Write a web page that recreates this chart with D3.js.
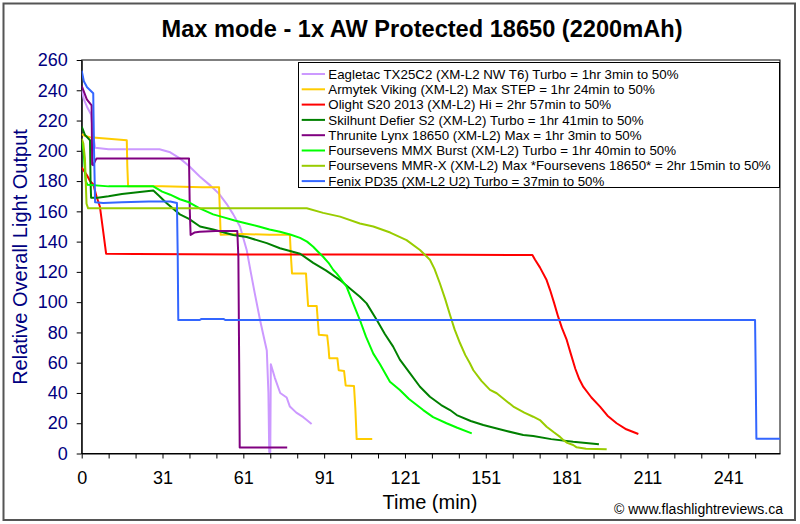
<!DOCTYPE html>
<html><head><meta charset="utf-8">
<script src="https://cdn.jsdelivr.net/npm/d3@7"></script>
<style>
html,body{margin:0;padding:0;background:#fff;}
svg{display:block;font-family:"Liberation Sans",Arial,sans-serif;}
</style></head>
<body>
<svg id="chart" width="800" height="524"></svg>
<script>
// ---------- DATA ----------
const title = "Max mode - 1x AW Protected 18650 (2200mAh)";
const xTitle = "Time (min)";
const yTitle = "Relative Overall Light Output";
const credit = "© www.flashlightreviews.ca";
const xTickLabels = ["0","31","61","91","121","151","181","211","241"];
const yTicks = [0,20,40,60,80,100,120,140,160,180,200,220,240,260];

const seriesNames = [
  "Eagletac TX25C2 (XM-L2 NW T6) Turbo = 1hr 3min to 50%",
  "Armytek Viking (XM-L2) Max STEP = 1hr 24min to 50%",
  "Olight S20 2013 (XM-L2) Hi = 2hr 57min to 50%",
  "Skilhunt Defier S2 (XM-L2) Turbo = 1hr 41min to 50%",
  "Thrunite Lynx 18650 (XM-L2) Max = 1hr 3min to 50%",
  "Foursevens MMX Burst (XM-L2) Turbo = 1hr 40min to 50%",
  "Foursevens MMR-X (XM-L2) Max *Foursevens 18650* = 2hr 15min to 50%",
  "Fenix PD35 (XM-L2 U2) Turbo = 37min to 50%"
];
const seriesColors = ["#CC99FF","#FFCC00","#FF0000","#008000","#800080","#00FF00","#99CC00","#3366FF"];

// [time (min), relative output]
const eagletac = [[0,240],[0.8,234],[2,229],[3.5,224],[4.3,210],[5,202],[10,201],[20,201],[29,201],[33,199],[36.6,195],[40,190],[44,183],[48,177],[51,172],[54,165],[56.5,158],[59,150],[61.5,134.5],[63,120],[64.5,106],[66.5,88],[68,76],[69,68],[69.6,40],[69.9,1],[70.3,1],[70.5,59],[72,50],[74,40],[76.4,37],[77.6,31],[80,27],[82.6,24],[84,22],[85.7,19.5]];
const armytek = [[0,211],[1,210],[3,209],[10,208],[16.8,207],[17,190],[17.3,176.5],[30,176.5],[45,176],[51.2,176],[51.5,160],[51.8,144.5],[60,145],[70,144.5],[77.6,144.5],[78,130],[78.4,119],[83.6,119],[84,108],[84.4,97.5],[87.6,97.5],[88,88],[88.4,78.5],[91.5,78],[92,70],[92.3,63],[95.3,63],[95.8,55],[97.8,54.5],[98.4,45],[101.5,44.6],[102,30],[102.5,9.5],[108.3,9.5]];
const olight = [[0,189],[1.9,184],[3.1,180],[4.3,178],[5.5,170],[6.8,163],[8,147],[9.1,132],[20,131.8],[60,131.5],[100,131.5],[140,131.3],[168,131.2],[169,128],[170.8,123],[173.3,114.6],[174.6,108],[176,100],[177.6,90.4],[179,83],[180.8,75],[182.3,66],[184,56],[185.5,49],[187,44],[190,37],[193.2,31],[196,25],[199.4,20],[203,16],[207.5,12.9]];
const skilhunt = [[0,216],[1.2,210.5],[3.1,207],[3.3,180],[3.5,169],[6,169],[10,170],[15,171.5],[20,172.5],[26.7,173.7],[29,170],[31.7,165.3],[36.6,158],[40,155],[44.1,150],[49,148],[56.5,144.4],[61.5,143],[69,139],[73.9,135.6],[81.4,132],[86.3,126],[91,121],[96.3,114.6],[100,109],[103.7,103.6],[106.2,99.2],[110,88.2],[113,79],[116.1,70.6],[118.6,62],[122.4,53],[126.1,44.1],[129.8,37.5],[134,32],[137.3,28.7],[139.8,25.4],[145,21.5],[149.7,18.8],[152.2,17.7],[158,15],[164.6,12.2],[168.3,11.5],[175,9.5],[183.2,7.8],[188,7],[192.8,6.1]];
const thrunite = [[0,243],[1.9,234],[3.7,230],[3.9,191],[4.3,190.5],[5.2,194],[5.6,195],[20,195],[30,195],[40,195],[40.3,160],[40.6,144.4],[42,146],[44,146.5],[50,147],[58,147],[58.4,130],[58.7,60],[58.9,4],[76.6,4]];
const mmx = [[0,206],[0.7,200],[1.5,180],[2.2,177.5],[10,176.5],[20,176.5],[26.7,176.5],[30,173],[33,171],[36.6,168],[40,166],[44,162],[49,158],[53,156],[57,154],[61.5,152],[66,150],[70,148],[73.9,146.5],[78,144.5],[81.4,142.5],[84,140],[86.3,136.6],[88,133.5],[90,130],[92,126],[93.8,121.2],[95,119],[96.3,116],[98.8,110],[101,100],[103.7,88.2],[106,77],[108.7,66],[111.2,59],[114.9,47.4],[118.6,42],[122,36],[127.3,28.7],[131,24],[136,20],[140,17],[145.4,13.3]];
const mmrx = [[0,208],[0.6,205],[1.2,195],[1.8,165],[2.4,162],[20,162],[50,162],[70,162],[83.9,162],[90,159],[96.3,156.5],[103.7,152],[108.7,150],[115,146],[121.1,141],[126.1,134.5],[129.8,128],[131.5,122],[133.5,112.5],[135.5,102],[137.3,91.5],[139,82],[141,73],[143,65],[144.7,59.6],[146,55],[149,48],[152.2,42],[154.7,39.8],[160.9,31],[165,27],[168.3,24.3],[170.8,22.1],[173.3,17.7],[176,14],[178.3,11],[179.5,8.9],[181,7],[183.2,5.6],[184.5,4.1],[188,3.2],[195.7,2.8]];
const fenix = [[0,253],[0.8,246],[2,242],[4.3,238],[4.6,200],[5,166],[8,165.5],[15,166],[25,166.5],[33,166.5],[35.5,165.5],[35.8,130],[36,88.2],[44,88.2],[44.5,88.8],[53,88.8],[53.5,88.2],[100,88.2],[150,88.2],[200,88.2],[251,88.2],[251.2,60],[251.5,9.8],[260.3,9.8]];

const seriesData = [eagletac, armytek, olight, skilhunt, thrunite, mmx, mmrx, fenix];

// ---------- LAYOUT ----------
const svg = d3.select("#chart");
const plot = {left: 81.7, right: 780, top: 60, bottom: 453.5};
const xMax = 260.3;
const xStep = 241 / 8; // spacing of labelled ticks

const x = d3.scaleLinear().domain([0, xMax]).range([plot.left, plot.right]);
const y = d3.scaleLinear().domain([0, 260]).range([plot.bottom, plot.top]);

// outer frame
svg.append("rect").attr("x", 3.5).attr("y", 3.5).attr("width", 791.5).attr("height", 516.5)
  .attr("fill", "#fff").attr("stroke", "#555").attr("stroke-width", 2);

// title
svg.append("text").attr("x", 422).attr("y", 37).attr("text-anchor", "middle")
  .attr("font-size", 23.6).attr("font-weight", "bold").attr("fill", "#000").text(title);

// plot area
svg.append("rect").attr("x", plot.left).attr("y", plot.top)
  .attr("width", plot.right - plot.left).attr("height", plot.bottom - plot.top)
  .attr("fill", "#fff").attr("stroke", "#000").attr("stroke-width", 1);

// clip
svg.append("clipPath").attr("id", "clip").append("rect")
  .attr("x", plot.left).attr("y", plot.top - 2)
  .attr("width", plot.right - plot.left).attr("height", plot.bottom - plot.top + 2);

// y axis
const yAxis = d3.axisLeft(y).tickValues(yTicks).tickSize(5).tickSizeOuter(0).tickPadding(9);
const gy = svg.append("g").attr("transform", `translate(${plot.left},0)`).call(yAxis);
gy.selectAll("text").attr("font-size", 18).attr("fill", "#000080").attr("font-family", "Liberation Sans, Arial, sans-serif");
gy.selectAll("line").attr("stroke", "#000");
gy.select(".domain").attr("stroke", "#000");

// x axis: minor ticks every third of a labelled step
const minorTicks = d3.range(0, 26).map(i => i * xStep / 3).filter(v => v <= xMax);
const xAxis = d3.axisBottom(x).tickValues(minorTicks).tickSize(5).tickSizeOuter(0).tickPadding(13)
  .tickFormat((d, i) => (i % 3 === 0 && xTickLabels[i / 3] !== undefined) ? xTickLabels[i / 3] : "");
const gx = svg.append("g").attr("transform", `translate(0,${plot.bottom})`).call(xAxis);
gx.selectAll("text").attr("font-size", 18).attr("fill", "#000").attr("font-family", "Liberation Sans, Arial, sans-serif");
gx.selectAll("line").attr("stroke", "#000");
gx.select(".domain").attr("stroke", "#000");

// axis titles
svg.append("text").attr("x", 430).attr("y", 509).attr("text-anchor", "middle")
  .attr("font-size", 20).attr("fill", "#000").text(xTitle);
svg.append("text").attr("transform", "translate(27,257) rotate(-90)").attr("text-anchor", "middle")
  .attr("font-size", 20).attr("fill", "#000080").text(yTitle);

// credit
svg.append("text").attr("x", 783).attr("y", 514).attr("text-anchor", "end")
  .attr("font-size", 14).attr("fill", "#000").text(credit);

// lines
const line = d3.line().x(d => x(d[0])).y(d => y(d[1]));
const gLines = svg.append("g").attr("clip-path", "url(#clip)");
seriesData.forEach((s, i) => {
  gLines.append("path").datum(s).attr("d", line)
    .attr("fill", "none").attr("stroke", seriesColors[i])
    .attr("stroke-width", 2).attr("stroke-linejoin", "round");
});

// legend
const lg = svg.append("g");
lg.append("rect").attr("x", 298.5).attr("y", 62.5).attr("width", 481).attr("height", 125)
  .attr("fill", "#fff").attr("stroke", "#000").attr("stroke-width", 1);
seriesNames.forEach((name, i) => {
  const cy = 74 + i * 15.3;
  lg.append("line").attr("x1", 301.7).attr("x2", 325).attr("y1", cy).attr("y2", cy)
    .attr("stroke", seriesColors[i]).attr("stroke-width", 2);
  lg.append("text").attr("x", 328.3).attr("y", cy).attr("dy", "0.35em")
    .attr("font-size", 13.3).attr("fill", "#000").text(name);
});
</script>
</body></html>
